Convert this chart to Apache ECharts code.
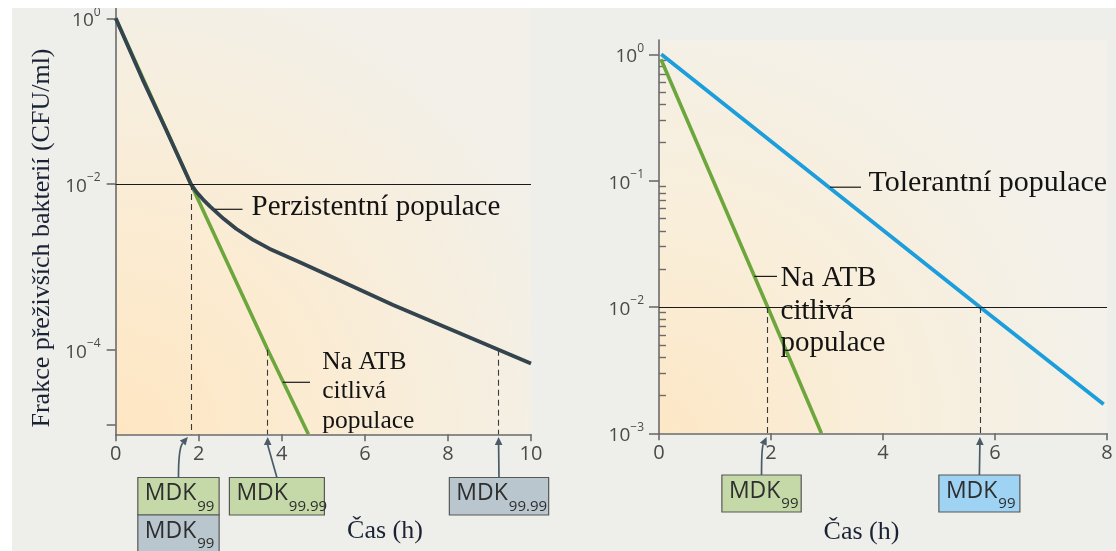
<!DOCTYPE html>
<html><head><meta charset="utf-8">
<script src="https://cdn.jsdelivr.net/npm/echarts@6/dist/echarts.min.js"></script>
<style>html,body{margin:0;padding:0;background:#fff}#c{width:1116px;height:551px}</style>
</head><body><div id="c"></div>
<script>
// ---------------- DATA ----------------
// Left panel: time (h) and log10 of surviving fraction
const leftXTicks = [0, 2, 4, 6, 8, 10];
const leftYLabelExp = [0, -2, -4];
const leftYTickExp = [0, -2, -4, -4.9];
const persistentX = [0, 0.65, 1.2, 1.81, 1.95, 2.1, 2.27, 2.6, 2.9, 3.3, 3.7, 4.5, 5.33, 6.68, 8.0, 9.22, 10];
const persistentLog = [0, -0.74, -1.33, -2, -2.1, -2.185, -2.27, -2.42, -2.54, -2.67, -2.78, -2.96, -3.15, -3.46, -3.74, -4, -4.165];
const sensitiveLeftX = [0, 1.81, 3.66, 4.64];
const sensitiveLeftLog = [0, -2, -4, -5.02];
const leftLevelsExp = [-2, -4];
const leftMdkX = [1.81, 3.66, 9.22];
const leftMdkLevelExp = [-2, -4, -4];
// Right panel
const rightXTicks = [0, 2, 4, 6, 8];
const rightYLabelExp = [0, -1, -2, -3];
const rightMinorMult = [2, 3, 4, 5, 6, 7, 8, 9];
const tolerantX = [0.04, 5.73, 7.94];
const tolerantLog = [0, -2, -2.77];
const sensitiveRightX = [0.035, 1.94, 2.9];
const sensitiveRightLog = [-0.04, -2, -3];
const rightLevelsExp = [-2];
const rightMdkX = [1.94, 5.73];
const rightMdkLevelExp = [-2, -2];
// axis ranges (log10)
const leftYRange = [-5.02, 0.124];
const rightYRange = [-3, 0.113];

// ---------------- STYLE ----------------
const SANS = '"Open Sans", "DejaVu Sans", sans-serif';
const SERIF = '"Liberation Serif", "Times New Roman", serif';
const AXIS_C = '#6b6b6b';
const TICKLBL_C = '#4a4a4a';
const TEXT_C = '#141414';
const DARK = '#33444e', GREEN = '#6ca63c', BLUE = '#1c9ddc';
const BOX_GREEN = '#c4d9a7', BOX_GREY = '#b9c6ce', BOX_BLUE = '#9fd3f3';
const ARROW_C = '#4b5c68';

const p10 = e => Math.pow(10, e);
const pairs = (xs, ls) => xs.map((x, i) => [x, p10(ls[i])]);
const supLabel = v => { const e = Math.round(Math.log10(v)); return '{b|10}{s|' + (e < 0 ? '\u2212' + (-e) : e) + '}'; };
const supRich = {
  b: {fontSize: 19, fontFamily: SANS, color: TICKLBL_C, lineHeight: 24, verticalAlign: 'bottom'},
  s: {fontSize: 12, fontFamily: SANS, color: TICKLBL_C, lineHeight: 12, verticalAlign: 'top'}
};
const gradL = {type: 'radial', x: 0, y: 1, r: 1.15, colorStops: [
  {offset: 0, color: '#fee6c2'}, {offset: 0.45, color: '#fbecd3'}, {offset: 1, color: '#f2f0e9'}]};
const gradR = {type: 'radial', x: 0, y: 1, r: 1.15, colorStops: [
  {offset: 0, color: '#fde7c6'}, {offset: 0.45, color: '#f9eed9'}, {offset: 1, color: '#f3f1ea'}]};

function xAxisDef(grid, max) {
  return {gridIndex: grid, type: 'value', min: 0, max: max, interval: 2,
    axisLine: {show: true, onZero: false, lineStyle: {color: AXIS_C, width: 1.6}},
    axisTick: {show: true, length: 7, lineStyle: {color: AXIS_C, width: 1.6}},
    axisLabel: {margin: 10, fontSize: 20, fontFamily: SANS, color: TICKLBL_C},
    splitLine: {show: false}};
}

const leftYMin = p10(leftYRange[0]);
const rightYMin = p10(rightYRange[0]);
const minorVals = [];
rightYLabelExp.slice(1).forEach(e => rightMinorMult.forEach(m => minorVals.push(m * p10(e))));

const option = {
  animation: false,
  backgroundColor: '#eeefeb',
  grid: [
    {left: 115.7, top: 8, width: 415.3, height: 426.3, show: true, borderWidth: 0, backgroundColor: gradL},
    {left: 659, top: 40, width: 448, height: 393.3, show: true, borderWidth: 0, backgroundColor: gradR}
  ],
  xAxis: [xAxisDef(0, leftXTicks[leftXTicks.length - 1]), xAxisDef(1, rightXTicks[rightXTicks.length - 1])],
  yAxis: [
    {gridIndex: 0, type: 'log', logBase: 10, min: leftYMin, max: p10(leftYRange[1]),
      axisLine: {show: true, onZero: false, lineStyle: {color: AXIS_C, width: 1.6}},
      axisTick: {show: true, length: 9, lineStyle: {color: AXIS_C, width: 1.6}, customValues: leftYTickExp.map(p10)},
      axisLabel: {margin: 15, customValues: leftYLabelExp.map(p10), formatter: supLabel, rich: supRich},
      splitLine: {show: false}},
    {gridIndex: 1, type: 'log', logBase: 10, min: rightYMin, max: p10(rightYRange[1]),
      axisLine: {show: true, onZero: false, lineStyle: {color: AXIS_C, width: 1.6}},
      axisTick: {show: true, length: 10, lineStyle: {color: AXIS_C, width: 1.6}, customValues: rightYLabelExp.map(p10)},
      axisLabel: {margin: 15, customValues: rightYLabelExp.map(p10), formatter: supLabel, rich: supRich},
      splitLine: {show: false}},
    {gridIndex: 1, type: 'log', logBase: 10, min: rightYMin, max: p10(rightYRange[1]),
      axisLine: {show: false},
      axisTick: {show: true, length: 7, lineStyle: {color: AXIS_C, width: 1.4}, customValues: minorVals},
      axisLabel: {show: false}, splitLine: {show: false}}
  ],
  series: [
    { // reference lines, left
      type: 'line', xAxisIndex: 0, yAxisIndex: 0, data: [], z: 1, silent: true,
      markLine: {silent: true, symbol: ['none', 'none'], label: {show: false}, animation: false,
        data: leftLevelsExp.map(e => ({yAxis: p10(e), lineStyle: {color: '#1a1a1a', width: 1, type: 'solid'}}))
          .concat(leftMdkX.map((x, i) => [
            {coord: [x, p10(leftMdkLevelExp[i])], lineStyle: {color: '#3a3a3a', width: 1.1, type: [6, 4]}},
            {coord: [x, leftYMin]}]))}
    },
    { // reference lines, right
      type: 'line', xAxisIndex: 1, yAxisIndex: 1, data: [], z: 1, silent: true,
      markLine: {silent: true, symbol: ['none', 'none'], label: {show: false}, animation: false,
        data: rightLevelsExp.map(e => ({yAxis: p10(e), lineStyle: {color: '#1a1a1a', width: 1, type: 'solid'}}))
          .concat(rightMdkX.map((x, i) => [
            {coord: [x, p10(rightMdkLevelExp[i])], lineStyle: {color: '#3a3a3a', width: 1.1, type: [6, 4]}},
            {coord: [x, rightYMin]}]))}
    },
    {name: 'Na ATB citlivá populace', type: 'line', xAxisIndex: 0, yAxisIndex: 0, data: pairs(sensitiveLeftX, sensitiveLeftLog),
      symbol: 'none', lineStyle: {color: GREEN, width: 3.6}, z: 3, silent: true},
    {name: 'Perzistentní populace', type: 'line', xAxisIndex: 0, yAxisIndex: 0, data: pairs(persistentX, persistentLog),
      symbol: 'none', lineStyle: {color: DARK, width: 3.8, join: 'round'}, z: 4, silent: true},
    {name: 'Tolerantní populace', type: 'line', xAxisIndex: 1, yAxisIndex: 1, data: pairs(tolerantX, tolerantLog),
      symbol: 'none', lineStyle: {color: BLUE, width: 3.8}, z: 3, silent: true},
    {name: 'Na ATB citlivá populace (2)', type: 'line', xAxisIndex: 1, yAxisIndex: 1, data: pairs(sensitiveRightX, sensitiveRightLog),
      symbol: 'none', lineStyle: {color: GREEN, width: 3.6}, z: 3, silent: true}
  ]
};

const chart = echarts.init(document.getElementById('c'));
chart.setOption(option);

// ---------------- ANNOTATIONS ----------------
const mctx = document.createElement('canvas').getContext('2d');
function textW(t, font) { mctx.font = font; return mctx.measureText(t).width; }

const g = [];
g.push({type: 'rect', shape: {x: 0, y: 0, width: 1116, height: 8}, style: {fill: '#ffffff'}, z: 20, silent: true});
g.push({type: 'rect', shape: {x: 0, y: 0, width: 12, height: 551}, style: {fill: '#ffffff'}, z: 20, silent: true});

function txt(x, y, text, size, opts) {
  g.push(Object.assign({type: 'text', x: x, y: y, z: 30, silent: true,
    style: Object.assign({text: text, font: size + 'px ' + SERIF, fill: TEXT_C, textAlign: 'left', textVerticalAlign: 'middle'}, opts || {})}));
}
function seg(x1, y1, x2, y2, color, w) {
  g.push({type: 'line', z: 30, silent: true, shape: {x1: x1, y1: y1, x2: x2, y2: y2}, style: {stroke: color || '#1a1a1a', lineWidth: w || 1.2}});
}

// curve labels
txt(251.5, 207, 'Perzistentní populace', 29);
seg(215, 209.3, 242.5, 209.3);
txt(322.3, 362.2, 'Na ATB', 25.5);
txt(322.3, 391.5, 'citlivá', 25.5);
txt(322.3, 420.8, 'populace', 25.5);
seg(282.7, 382.3, 310, 382.3);
txt(868.5, 183, 'Tolerantní populace', 30);
seg(830, 187.2, 861, 187.2);
txt(780.6, 278, 'Na ATB', 29);
txt(780.6, 311.4, 'citlivá', 29);
txt(780.6, 343, 'populace', 29);
seg(754.3, 276.4, 777, 276.4);

// axis titles
g.push({type: 'text', x: 42, y: 238, rotation: Math.PI / 2, z: 30, silent: true,
  style: {text: 'Frakce přeživších bakterií (CFU/ml)', font: '26px ' + SERIF, fill: '#1b2233', textAlign: 'center', textVerticalAlign: 'middle'}});
txt(385, 531, 'Čas (h)', 26, {textAlign: 'center', fill: '#1b2233'});
txt(861.5, 532, 'Čas (h)', 26, {textAlign: 'center', fill: '#1b2233'});

// MDK boxes
const boxes = [
  {xi: 0, x: leftMdkX[0], dx: -12.4, w: 81.3, top: 477.5, h: 37.5, fill: BOX_GREEN, sub: '99', curve: true, tipDx: -3},
  {xi: 0, x: leftMdkX[0], dx: -12.4, w: 81.3, top: 515, h: 40, fill: BOX_GREY, sub: '99', noArrow: true},
  {xi: 0, x: leftMdkX[1], dx: 9.2, w: 95, top: 477.5, h: 37.5, fill: BOX_GREEN, sub: '99.99'},
  {xi: 0, x: leftMdkX[2], dx: 0.4, w: 99.3, top: 477.5, h: 37.5, fill: BOX_GREY, sub: '99.99'},
  {xi: 1, x: rightMdkX[0], dx: -6.1, w: 79.3, top: 475, h: 37, fill: BOX_GREEN, sub: '99', curve: true, tipDx: -1},
  {xi: 1, x: rightMdkX[1], dx: -0.5, w: 81, top: 475, h: 37, fill: BOX_BLUE, sub: '99'}
];
const mFont = '23px ' + SANS, sFont = '15px ' + SANS;
const mW = textW('MDK', mFont);
boxes.forEach(b => {
  const ax = chart.convertToPixel({xAxisIndex: b.xi}, b.x);
  const cx = ax + b.dx;
  const left = cx - b.w / 2;
  g.push({type: 'rect', z: 25, silent: true, shape: {x: left, y: b.top, width: b.w, height: b.h},
    style: {fill: b.fill, stroke: '#575757', lineWidth: 1.2}});
  g.push({type: 'text', z: 30, silent: true, x: left + 7, y: b.top + 16,
    style: {text: 'MDK', font: mFont, fill: '#2e2e2e', textAlign: 'left', textVerticalAlign: 'middle'}});
  g.push({type: 'text', z: 30, silent: true, x: left + 7 + mW + 1, y: b.top + 29,
    style: {text: b.sub, font: sFont, fill: '#2e2e2e', textAlign: 'left', textVerticalAlign: 'middle'}});
  if (b.noArrow) return;
  const tipX = ax + (b.tipDx || 0), tipY = 437;
  let dirx = 0, diry = -1, cp = null;
  if (b.curve) {
    cp = [cx, 448];
    const vx = tipX - cp[0], vy = tipY - cp[1], L = Math.hypot(vx, vy);
    dirx = vx / L; diry = vy / L;
  }
  const hl = 8, hw = 3.8;
  const bxc = tipX - dirx * hl, byc = tipY - diry * hl;
  const px = -diry, py = dirx;
  if (b.curve) {
    g.push({type: 'bezierCurve', z: 26, silent: true,
      shape: {x1: cx, y1: b.top, cpx1: cp[0], cpy1: cp[1], x2: bxc, y2: byc},
      style: {stroke: ARROW_C, lineWidth: 1.7, fill: null}});
  } else {
    seg(cx, b.top, bxc, byc, ARROW_C, 1.7);
  }
  g.push({type: 'polygon', z: 27, silent: true,
    shape: {points: [[tipX, tipY], [bxc + px * hw, byc + py * hw], [bxc - px * hw, byc - py * hw]]},
    style: {fill: ARROW_C}});
});

chart.setOption({graphic: {elements: g}});
</script>
</body></html>
